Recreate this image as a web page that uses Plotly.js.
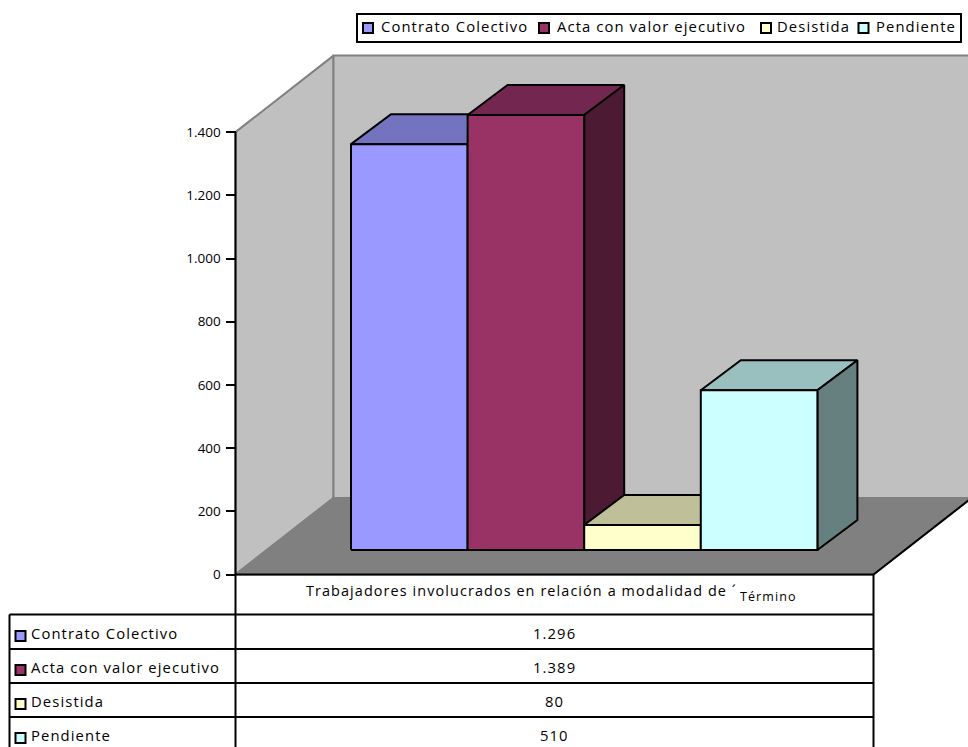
<!DOCTYPE html>
<html>
<head>
<meta charset="utf-8">
<script src="https://cdn.plot.ly/plotly-3.0.1.min.js"></script>
<style>
html,body{margin:0;padding:0;background:#fff;overflow:hidden}
.annotation-text{letter-spacing:1.1px}
</style>
</head>
<body>
<div id="chart" style="width:968px;height:747px"></div>
<script>
// Workers involved, by type of case closure
const categories = ['Contrato Colectivo', 'Acta con valor ejecutivo', 'Desistida', 'Pendiente'];
const workers = [1296, 1389, 80, 510];
const frontColors = ['#9999FF', '#993366', '#FFFFCC', '#CCFFFF'];
const topColors = ['#7373BF', '#732650', '#BFBF99', '#99BFBF'];
const sideColors = ['#4D4D80', '#4D1A33', '#808066', '#668080'];
const dataTitle = 'Trabajadores involucrados en relación a modalidad de ´';
const dataTitleTail = 'Término';

const W = 968, H = 747;
const FONT = 'Open Sans';
const zeroPx = 574.5, pxPerUnit = 0.316;     // vertical scale of the value axis
const barLeftPx = 351, barWidthPx = 116.6;   // one x unit equals one bar width

// Oblique projection of the 3D box, expressed in axis units
const toUnitsX = px => px / barWidthPx;
const toUnitsY = px => px / pxPerUnit;
const floorDepth = { x: toUnitsX(98), y: toUnitsY(76.5) };
const barDepth = { x: toUnitsX(40), y: toUnitsY(30) };
const barBase = toUnitsY(24.5);
const barShrink = 0.991;                     // bars sit deeper in the box than the axis plane
const floorLeft = toUnitsX(235.5 - barLeftPx);
const floorRight = toUnitsX(873.5 - barLeftPx);
const wallTop = 1400;
const pageBottom = -(H - zeroPx) / pxPerUnit;

function poly(xs, ys, fill, line, width) {
  return {
    type: 'scatter', mode: 'lines', x: xs.concat(xs[0]), y: ys.concat(ys[0]),
    fill: 'toself', fillcolor: fill, line: { color: line, width: width },
    hoverinfo: 'skip', showlegend: false
  };
}
const stroke = (xs, ys) => ({
  type: 'scatter', mode: 'lines', x: xs, y: ys, line: { color: '#000', width: 2 },
  hoverinfo: 'skip', showlegend: false
});

const traces = [];
// Left wall, back wall and floor
traces.push(poly(
  [floorLeft, floorLeft + floorDepth.x, floorLeft + floorDepth.x, floorLeft],
  [0, floorDepth.y, wallTop + floorDepth.y, wallTop], '#C0C0C0', '#808080', 2));
traces.push(poly(
  [floorLeft + floorDepth.x, floorRight + floorDepth.x, floorRight + floorDepth.x, floorLeft + floorDepth.x],
  [floorDepth.y, floorDepth.y, wallTop + floorDepth.y, wallTop + floorDepth.y], '#C0C0C0', '#808080', 2));
traces.push(poly(
  [floorLeft, floorRight, floorRight + floorDepth.x, floorLeft + floorDepth.x],
  [0, 0, floorDepth.y, floorDepth.y], '#808080', '#808080', 2));
traces.push(stroke([floorRight, floorRight + floorDepth.x], [0, floorDepth.y]));
// Value axis line, running on down as the first divider of the table
traces.push(stroke([floorLeft, floorLeft], [wallTop, pageBottom]));

// Each bar is drawn as its top, side and front faces, left to right
workers.forEach((v, i) => {
  const x0 = i, x1 = i + 1, y0 = barBase, y1 = barBase + v * barShrink;
  const dx = barDepth.x, dy = barDepth.y;
  traces.push(poly([x0, x1, x1 + dx, x0 + dx], [y1, y1, y1 + dy, y1 + dy], topColors[i], '#000', 2));
  traces.push(poly([x1, x1 + dx, x1 + dx, x1], [y0, y0 + dy, y1 + dy, y1], sideColors[i], '#000', 2));
  traces.push(poly([x0, x1, x1, x0], [y0, y0, y1, y1], frontColors[i], '#000', 2));
});

const px = x => x / W, py = y => 1 - y / H;
const shapes = [], annotations = [];
const hline = (x0, x1, y) => shapes.push({
  type: 'line', xref: 'paper', yref: 'paper', x0: px(x0), x1: px(x1), y0: py(y), y1: py(y),
  line: { color: '#000', width: 2 }
});
const vline = (x, y0, y1) => shapes.push({
  type: 'line', xref: 'paper', yref: 'paper', x0: px(x), x1: px(x), y0: py(y0), y1: py(y1),
  line: { color: '#000', width: 2 }
});
const key = (x, y, color) => shapes.push({
  type: 'rect', xref: 'paper', yref: 'paper', x0: px(x), x1: px(x + 10), y0: py(y), y1: py(y + 10),
  fillcolor: color, line: { color: '#000', width: 2 }
});
const label = (text, x, y, anchor, size) => annotations.push({
  text: text, xref: 'paper', yref: 'paper', x: px(x), y: py(y), xanchor: anchor, yanchor: 'middle',
  showarrow: false, font: { family: FONT, size: size || 14.8, color: '#000' }, borderpad: 0, borderwidth: 0
});
const esNumber = n => String(n).replace(/\B(?=(\d{3})+$)/g, '.');

// Legend box
shapes.push({
  type: 'rect', xref: 'paper', yref: 'paper', x0: px(357), x1: px(961), y0: py(14), y1: py(42),
  fillcolor: '#fff', line: { color: '#000', width: 2 }
});
const legendKeyX = [363, 539, 761, 858.5], legendTextX = [381, 557, 777, 876];
categories.forEach((c, i) => {
  key(legendKeyX[i], 23, frontColors[i]);
  label(c, legendTextX[i], 26, 'left');
});

// Data table under the chart
const rowLines = [614.5, 649, 683, 717];
const rowCentres = [633, 667, 701, 735];
hline(235.5, 873.5, zeroPx);
vline(873.5, zeroPx, H);
vline(9.5, rowLines[0], H);
rowLines.forEach(y => hline(9.5, 873.5, y));
label(dataTitle, 306, 590, 'left', 14.4);
label(dataTitleTail, 740, 596, 'left', 12.5);
categories.forEach((c, i) => {
  key(15.5, rowCentres[i] - 2, frontColors[i]);
  label(c, 31, rowCentres[i], 'left');
  label(esNumber(workers[i]), 554, rowCentres[i], 'center');
});

const layout = {
  width: W, height: H, margin: { l: 0, r: 0, t: 0, b: 0 },
  paper_bgcolor: '#fff', plot_bgcolor: 'rgba(0,0,0,0)', showlegend: false,
  separators: ',.',
  xaxis: { visible: false, domain: [0, 1], range: [toUnitsX(-barLeftPx), toUnitsX(W - barLeftPx)], fixedrange: true },
  yaxis: {
    anchor: 'free', position: 235.5 / W, side: 'left',
    domain: [0, 1],
    range: [pageBottom, zeroPx / pxPerUnit],
    tickmode: 'array', tickvals: [0, 200, 400, 600, 800, 1000, 1200, 1400],
    tickformat: ',d', ticks: 'outside', ticklen: 10, tickwidth: 2, tickcolor: '#000',
    ticklabelstandoff: 2, showline: false, showgrid: false, zeroline: false,
    tickfont: { family: FONT, size: 13.5, color: '#000' }, fixedrange: true
  },
  shapes: shapes, annotations: annotations
};
Plotly.newPlot('chart', traces, layout, { displayModeBar: false, staticPlot: true });
</script>
</body>
</html>
